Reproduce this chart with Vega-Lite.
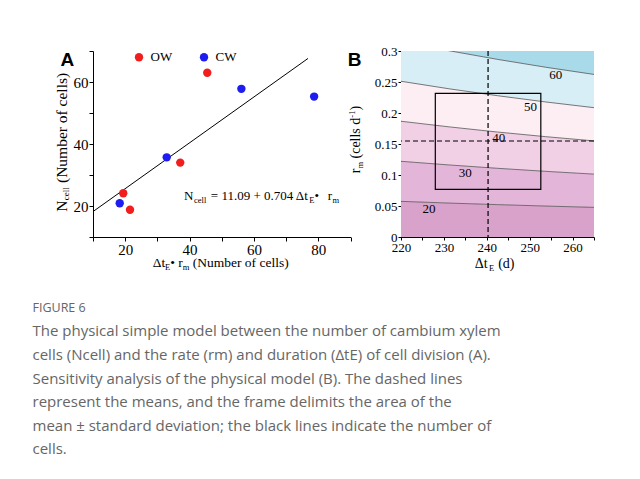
{
"$schema": "https://vega.github.io/schema/vega-lite/v6.json",
"padding": {"left": 32, "top": 45, "right": 5, "bottom": 5},
"background": "white",
"datasets": {
 "ptsA": [
  {"x": 19.4, "y": 24.1, "site": "OW"},
  {"x": 21.5, "y": 18.8, "site": "OW"},
  {"x": 37.1, "y": 34.0, "site": "OW"},
  {"x": 45.5, "y": 63.0, "site": "OW"},
  {"x": 18.3, "y": 20.9, "site": "CW"},
  {"x": 32.9, "y": 35.7, "site": "CW"},
  {"x": 56.1, "y": 57.8, "site": "CW"},
  {"x": 78.7, "y": 55.3, "site": "CW"}
 ],
 "fitA": [{"x": 10, "y": 18.2}, {"x": 76.8, "y": 67.6}],
 "annoMain": [{"x": 38.3, "y": 22.0, "t": "N"}, {"x": 46.6, "y": 22.0, "t": "= 11.09 + 0.704 Δt"}],
 "annoMain2": [{"x": 78.8, "y": 22.0, "t": "•"}, {"x": 82.9, "y": 22.0, "t": "r"}],
 "annoSub1": [{"x": 41.4, "y": 22.0, "t": "cell"}],
 "annoSub2": [{"x": 77.2, "y": 22.0, "t": "E"}, {"x": 84.4, "y": 22.0, "t": "m"}],
 "bands": [
  {"dt": 220, "lo": 0, "hi": 0.0575, "band": "b0"},
  {"dt": 231.25, "lo": 0, "hi": 0.0547, "band": "b0"},
  {"dt": 242.5, "lo": 0, "hi": 0.0522, "band": "b0"},
  {"dt": 253.75, "lo": 0, "hi": 0.0499, "band": "b0"},
  {"dt": 265, "lo": 0, "hi": 0.0478, "band": "b0"},
  {"dt": 220, "lo": 0.0575, "hi": 0.1221, "band": "b1"},
  {"dt": 231.25, "lo": 0.0547, "hi": 0.1162, "band": "b1"},
  {"dt": 242.5, "lo": 0.0522, "hi": 0.1108, "band": "b1"},
  {"dt": 253.75, "lo": 0.0499, "hi": 0.1059, "band": "b1"},
  {"dt": 265, "lo": 0.0478, "hi": 0.1014, "band": "b1"},
  {"dt": 220, "lo": 0.1221, "hi": 0.1867, "band": "b2"},
  {"dt": 231.25, "lo": 0.1162, "hi": 0.1776, "band": "b2"},
  {"dt": 242.5, "lo": 0.1108, "hi": 0.1693, "band": "b2"},
  {"dt": 253.75, "lo": 0.1059, "hi": 0.1618, "band": "b2"},
  {"dt": 265, "lo": 0.1014, "hi": 0.1550, "band": "b2"},
  {"dt": 220, "lo": 0.1867, "hi": 0.2512, "band": "b3"},
  {"dt": 231.25, "lo": 0.1776, "hi": 0.2390, "band": "b3"},
  {"dt": 242.5, "lo": 0.1693, "hi": 0.2279, "band": "b3"},
  {"dt": 253.75, "lo": 0.1618, "hi": 0.2178, "band": "b3"},
  {"dt": 265, "lo": 0.1550, "hi": 0.2086, "band": "b3"},
  {"dt": 220, "lo": 0.2512, "hi": 0.3158, "band": "b4"},
  {"dt": 231.25, "lo": 0.2390, "hi": 0.3004, "band": "b4"},
  {"dt": 242.5, "lo": 0.2279, "hi": 0.2865, "band": "b4"},
  {"dt": 253.75, "lo": 0.2178, "hi": 0.2738, "band": "b4"},
  {"dt": 265, "lo": 0.2086, "hi": 0.2622, "band": "b4"},
  {"dt": 220, "lo": 0.3158, "hi": 0.35, "band": "b5"},
  {"dt": 231.25, "lo": 0.3004, "hi": 0.35, "band": "b5"},
  {"dt": 242.5, "lo": 0.2865, "hi": 0.35, "band": "b5"},
  {"dt": 253.75, "lo": 0.2738, "hi": 0.35, "band": "b5"},
  {"dt": 265, "lo": 0.2622, "hi": 0.35, "band": "b5"}
 ],
 "contours": [
  {"dt": 220, "r": 0.0575, "level": 20},
  {"dt": 231.25, "r": 0.0547, "level": 20},
  {"dt": 242.5, "r": 0.0522, "level": 20},
  {"dt": 253.75, "r": 0.0499, "level": 20},
  {"dt": 265, "r": 0.0478, "level": 20},
  {"dt": 220, "r": 0.1221, "level": 30},
  {"dt": 231.25, "r": 0.1162, "level": 30},
  {"dt": 242.5, "r": 0.1108, "level": 30},
  {"dt": 253.75, "r": 0.1059, "level": 30},
  {"dt": 265, "r": 0.1014, "level": 30},
  {"dt": 220, "r": 0.1867, "level": 40},
  {"dt": 231.25, "r": 0.1776, "level": 40},
  {"dt": 242.5, "r": 0.1693, "level": 40},
  {"dt": 253.75, "r": 0.1618, "level": 40},
  {"dt": 265, "r": 0.1550, "level": 40},
  {"dt": 220, "r": 0.2512, "level": 50},
  {"dt": 231.25, "r": 0.2390, "level": 50},
  {"dt": 242.5, "r": 0.2279, "level": 50},
  {"dt": 253.75, "r": 0.2178, "level": 50},
  {"dt": 265, "r": 0.2086, "level": 50},
  {"dt": 220, "r": 0.3158, "level": 60},
  {"dt": 231.25, "r": 0.3004, "level": 60},
  {"dt": 242.5, "r": 0.2865, "level": 60},
  {"dt": 253.75, "r": 0.2738, "level": 60},
  {"dt": 265, "r": 0.2622, "level": 60}
 ],
 "boxB": [{"x1": 228.0, "x2": 252.6, "y1": 0.0769, "y2": 0.2318}],
 "vB": [{"dt": 240.3}],
 "hB": [{"r": 0.1548}],
 "labelsB": [
  {"dt": 226.5, "r": 0.0447, "t": "20"},
  {"dt": 235.0, "r": 0.1027, "t": "30"},
  {"dt": 242.8, "r": 0.1602, "t": "40"},
  {"dt": 250.2, "r": 0.2102, "t": "50"},
  {"dt": 256.1, "r": 0.2613, "t": "60"}
 ]
},
"config": {
 "view": {"stroke": null},
 "axis": {"grid": false, "domainColor": "#000", "tickColor": "#000", "labelColor": "#000", "titleColor": "#000", "labelFont": "Liberation Serif", "titleFont": "Liberation Serif", "titleFontWeight": "normal", "labelFlush": false, "domainWidth": 1, "tickWidth": 1}
},
"resolve": {"scale": {"color": "independent"}},
"spacing": 50,
"bounds": "flush",
"title": {
 "text": "FIGURE 6",
 "subtitle": [
  "The physical simple model between the number of cambium xylem",
  "cells (Ncell) and the rate (rm) and duration (ΔtE) of cell division (A).",
  "Sensitivity analysis of the physical model (B). The dashed lines",
  "represent the means, and the frame delimits the area of the",
  "mean ± standard deviation; the black lines indicate the number of",
  "cells."
 ],
 "orient": "bottom", "anchor": "start", "frame": "group", "dx": -60.5, "offset": 30,
 "baseline": "top",
 "font": "Open Sans", "fontSize": 12.5, "fontWeight": "normal", "color": "#666666",
 "subtitleFont": "Open Sans", "subtitleFontSize": 15, "subtitleFontWeight": "normal", "subtitleColor": "#666666", "subtitleLineHeight": 23.6, "subtitlePadding": 10.4
},
"hconcat": [
 {
  "width": 257.5, "height": 186,
  "title": {"text": "A", "anchor": "start", "frame": "group", "font": "Liberation Sans", "fontSize": 19, "fontWeight": "bold", "color": "#000", "dx": -32.5, "dy": 34.8, "offset": 0, "baseline": "alphabetic"},
  "resolve": {"axis": {"x": "independent", "y": "independent"}},
  "layer": [
   {"data": {"name": "fitA"}, "mark": {"type": "line", "color": "#000", "strokeWidth": 1},
    "encoding": {
     "x": {"field": "x", "type": "quantitative", "scale": {"domain": [10, 90], "nice": false, "zero": false},
       "axis": {"orient": "bottom", "values": [10,20,30,40,50,60,70,80,90], "labelExpr": "datum.value % 20 === 0 ? datum.label : ''", "title": null, "tickSize": 4, "labelFontSize": 15, "labelPadding": 1}},
     "y": {"field": "y", "type": "quantitative", "scale": {"domain": [10, 70], "nice": false, "zero": false},
       "axis": {"orient": "left", "values": [10,20,30,40,50,60,70], "labelExpr": "datum.value % 20 === 0 ? datum.label : ''", "title": null, "tickSize": 4, "labelFontSize": 15, "labelPadding": 1}}
    }},
   {"data": {"name": "ptsA"}, "mark": {"type": "circle", "size": 70, "opacity": 1},
    "encoding": {
     "x": {"field": "x", "type": "quantitative", "scale": {"domain": [10, 90], "nice": false, "zero": false},
       "axis": {"orient": "bottom", "domain": false, "ticks": false, "labels": false, "title": "Δt", "titleX": 59.2, "titleY": 29, "titleAlign": "left", "titleBaseline": "alphabetic", "titleAngle": 0, "titleFontSize": 13.5}},
     "y": {"field": "y", "type": "quantitative", "scale": {"domain": [10, 70], "nice": false, "zero": false},
       "axis": {"orient": "left", "domain": false, "ticks": false, "labels": false, "title": "N", "titleX": -27, "titleY": 160.2, "titleAlign": "left", "titleBaseline": "alphabetic", "titleAngle": 270, "titleFontSize": 15.5}},
     "color": {"field": "site", "type": "nominal", "scale": {"domain": ["OW", "CW"], "range": ["#f21d1d", "#1d1df2"]},
       "legend": {"orient": "none", "legendX": 39.5, "legendY": -0.5, "direction": "horizontal", "title": null, "labelFont": "Liberation Serif", "labelFontSize": 13, "labelColor": "#000", "symbolType": "circle", "symbolSize": 70, "symbolStrokeWidth": 0, "symbolOpacity": 1, "labelOffset": 5, "columnPadding": 25, "padding": 0}}
    }},
   {"data": {"name": "annoMain"}, "mark": {"type": "text", "align": "left", "baseline": "alphabetic", "font": "Liberation Serif", "fontSize": 13, "color": "#000"},
    "encoding": {
     "x": {"field": "x", "type": "quantitative", "scale": {"domain": [10, 90], "nice": false, "zero": false},
       "axis": {"orient": "bottom", "domain": false, "ticks": false, "labels": false, "title": "E", "titleX": 71.4, "titleY": 32, "titleAlign": "left", "titleBaseline": "alphabetic", "titleAngle": 0, "titleFontSize": 8.5}},
     "y": {"field": "y", "type": "quantitative", "scale": {"domain": [10, 70], "nice": false, "zero": false},
       "axis": {"orient": "left", "domain": false, "ticks": false, "labels": false, "title": "cell", "titleX": -24.5, "titleY": 148.7, "titleAlign": "left", "titleBaseline": "alphabetic", "titleAngle": 270, "titleFontSize": 9}},
     "text": {"field": "t", "type": "nominal"}
    }},
   {"data": {"name": "annoMain2"}, "mark": {"type": "text", "align": "left", "baseline": "alphabetic", "font": "Liberation Serif", "fontSize": 13, "color": "#000"},
    "encoding": {
     "x": {"field": "x", "type": "quantitative", "scale": {"domain": [10, 90], "nice": false, "zero": false},
       "axis": {"orient": "bottom", "domain": false, "ticks": false, "labels": false, "title": "• r", "titleX": 76.7, "titleY": 29, "titleAlign": "left", "titleBaseline": "alphabetic", "titleAngle": 0, "titleFontSize": 13.5}},
     "y": {"field": "y", "type": "quantitative", "scale": {"domain": [10, 70], "nice": false, "zero": false},
       "axis": {"orient": "left", "domain": false, "ticks": false, "labels": false, "title": "(Number of cells)", "titleX": -27, "titleY": 131.5, "titleAlign": "left", "titleBaseline": "alphabetic", "titleAngle": 270, "titleFontSize": 15.5}},
     "text": {"field": "t", "type": "nominal"}
    }},
   {"data": {"name": "annoSub1"}, "mark": {"type": "text", "align": "left", "baseline": "alphabetic", "font": "Liberation Serif", "fontSize": 8.5, "dy": 3, "color": "#000"},
    "encoding": {
     "x": {"field": "x", "type": "quantitative", "scale": {"domain": [10, 90], "nice": false, "zero": false},
       "axis": {"orient": "bottom", "domain": false, "ticks": false, "labels": false, "title": "m", "titleX": 89.3, "titleY": 32, "titleAlign": "left", "titleBaseline": "alphabetic", "titleAngle": 0, "titleFontSize": 8.5}},
     "y": {"field": "y", "type": "quantitative", "scale": {"domain": [10, 70], "nice": false, "zero": false}, "axis": null},
     "text": {"field": "t", "type": "nominal"}
    }},
   {"data": {"name": "annoSub2"}, "mark": {"type": "text", "align": "left", "baseline": "alphabetic", "font": "Liberation Serif", "fontSize": 8.5, "dy": 3, "color": "#000"},
    "encoding": {
     "x": {"field": "x", "type": "quantitative", "scale": {"domain": [10, 90], "nice": false, "zero": false},
       "axis": {"orient": "bottom", "domain": false, "ticks": false, "labels": false, "title": "(Number of cells)", "titleX": 99.2, "titleY": 29, "titleAlign": "left", "titleBaseline": "alphabetic", "titleAngle": 0, "titleFontSize": 13.5}},
     "y": {"field": "y", "type": "quantitative", "scale": {"domain": [10, 70], "nice": false, "zero": false}, "axis": null},
     "text": {"field": "t", "type": "nominal"}
    }}
  ]
 },
 {
  "width": 193, "height": 186,
  "title": {"text": "B", "anchor": "start", "frame": "group", "font": "Liberation Sans", "fontSize": 19, "fontWeight": "bold", "color": "#000", "dx": -53.3, "dy": 39.8, "offset": 0, "baseline": "alphabetic"},
  "resolve": {"axis": {"x": "independent", "y": "independent"}},
  "layer": [
   {"data": {"name": "bands"}, "mark": {"type": "area", "orient": "vertical", "clip": true, "opacity": 1},
    "encoding": {
     "x": {"field": "dt", "type": "quantitative", "scale": {"domain": [220, 265], "nice": false, "zero": false},
       "axis": {"orient": "bottom", "values": [220,225,230,235,240,245,250,255,260,265], "labelExpr": "datum.value % 10 === 0 ? datum.label : ''", "title": null, "tickSize": 3, "labelFontSize": 13, "labelPadding": 1}},
     "y": {"field": "hi", "type": "quantitative", "stack": null, "scale": {"domain": [0, 0.3], "nice": false, "zero": false},
       "axis": {"orient": "left", "values": [0, 0.05, 0.1, 0.15, 0.2, 0.25, 0.3], "format": "~g", "title": null, "tickSize": 3, "labelFontSize": 13, "labelPadding": 1}},
     "y2": {"field": "lo"},
     "color": {"field": "band", "type": "nominal", "scale": {"domain": ["b0","b1","b2","b3","b4","b5"], "range": ["#d9a2ca","#e3b5d9","#f1d0e6","#fdeef3","#d7eef6","#a8dae9"]}, "legend": null}
    }},
   {"data": {"name": "contours"}, "transform": [{"filter": "datum.level <= 40"}],
    "mark": {"type": "line", "clip": true, "color": "#555555", "strokeWidth": 0.8},
    "encoding": {
     "x": {"field": "dt", "type": "quantitative", "scale": {"domain": [220, 265], "nice": false, "zero": false},
       "axis": {"orient": "bottom", "domain": false, "ticks": false, "labels": false, "title": "Δt", "titleX": 73.3, "titleY": 30, "titleAlign": "left", "titleBaseline": "alphabetic", "titleAngle": 0, "titleFontSize": 14}},
     "y": {"field": "r", "type": "quantitative", "scale": {"domain": [0, 0.3], "nice": false, "zero": false},
       "axis": {"orient": "left", "domain": false, "ticks": false, "labels": false, "title": "r", "titleX": -41.5, "titleY": 121.8, "titleAlign": "left", "titleBaseline": "alphabetic", "titleAngle": 270, "titleFontSize": 14}},
     "detail": {"field": "level", "type": "nominal"}
    }},
   {"data": {"name": "contours"}, "transform": [{"filter": "datum.level >= 50"}],
    "mark": {"type": "line", "clip": true, "color": "#555555", "strokeWidth": 0.8},
    "encoding": {
     "x": {"field": "dt", "type": "quantitative", "scale": {"domain": [220, 265], "nice": false, "zero": false},
       "axis": {"orient": "bottom", "domain": false, "ticks": false, "labels": false, "title": "E", "titleX": 87.5, "titleY": 33, "titleAlign": "left", "titleBaseline": "alphabetic", "titleAngle": 0, "titleFontSize": 8.5}},
     "y": {"field": "r", "type": "quantitative", "scale": {"domain": [0, 0.3], "nice": false, "zero": false},
       "axis": {"orient": "left", "domain": false, "ticks": false, "labels": false, "title": "m", "titleX": -39, "titleY": 117.1, "titleAlign": "left", "titleBaseline": "alphabetic", "titleAngle": 270, "titleFontSize": 8.5}},
     "detail": {"field": "level", "type": "nominal"}
    }},
   {"data": {"name": "vB"}, "mark": {"type": "rule", "color": "#000", "strokeWidth": 1.2, "strokeDash": [5, 3]},
    "encoding": {
     "x": {"field": "dt", "type": "quantitative", "scale": {"domain": [220, 265], "nice": false, "zero": false}, "axis": null}
    }},
   {"data": {"name": "hB"}, "mark": {"type": "rule", "color": "#000", "strokeWidth": 1.2, "strokeDash": [5, 3]},
    "encoding": {
     "y": {"field": "r", "type": "quantitative", "scale": {"domain": [0, 0.3], "nice": false, "zero": false},
       "axis": {"orient": "left", "domain": false, "ticks": false, "labels": false, "title": ")", "titleX": -41.5, "titleY": 59.1, "titleAlign": "left", "titleBaseline": "alphabetic", "titleAngle": 270, "titleFontSize": 14}}
    }},
   {"data": {"name": "boxB"}, "mark": {"type": "rect", "fillOpacity": 0, "stroke": "#000", "strokeWidth": 1.2},
    "encoding": {
     "x": {"field": "x1", "type": "quantitative", "scale": {"domain": [220, 265], "nice": false, "zero": false},
       "axis": {"orient": "bottom", "domain": false, "ticks": false, "labels": false, "title": "(d)", "titleX": 96.7, "titleY": 30, "titleAlign": "left", "titleBaseline": "alphabetic", "titleAngle": 0, "titleFontSize": 14}},
     "x2": {"field": "x2"},
     "y": {"field": "y1", "type": "quantitative", "scale": {"domain": [0, 0.3], "nice": false, "zero": false},
       "axis": {"orient": "left", "domain": false, "ticks": false, "labels": false, "title": "(cells d", "titleX": -41.5, "titleY": 107.0, "titleAlign": "left", "titleBaseline": "alphabetic", "titleAngle": 270, "titleFontSize": 14}},
     "y2": {"field": "y2"}
    }},
   {"data": {"name": "labelsB"}, "mark": {"type": "text", "font": "Liberation Serif", "fontSize": 13, "color": "#000", "align": "center", "baseline": "middle"},
    "encoding": {
     "x": {"field": "dt", "type": "quantitative", "scale": {"domain": [220, 265], "nice": false, "zero": false}, "axis": null},
     "y": {"field": "r", "type": "quantitative", "scale": {"domain": [0, 0.3], "nice": false, "zero": false},
       "axis": {"orient": "left", "domain": false, "ticks": false, "labels": false, "title": "-1", "titleX": -46.5, "titleY": 66.2, "titleAlign": "left", "titleBaseline": "alphabetic", "titleAngle": 270, "titleFontSize": 8.5}},
     "text": {"field": "t", "type": "nominal"}
    }}
  ]
 }
]
}
